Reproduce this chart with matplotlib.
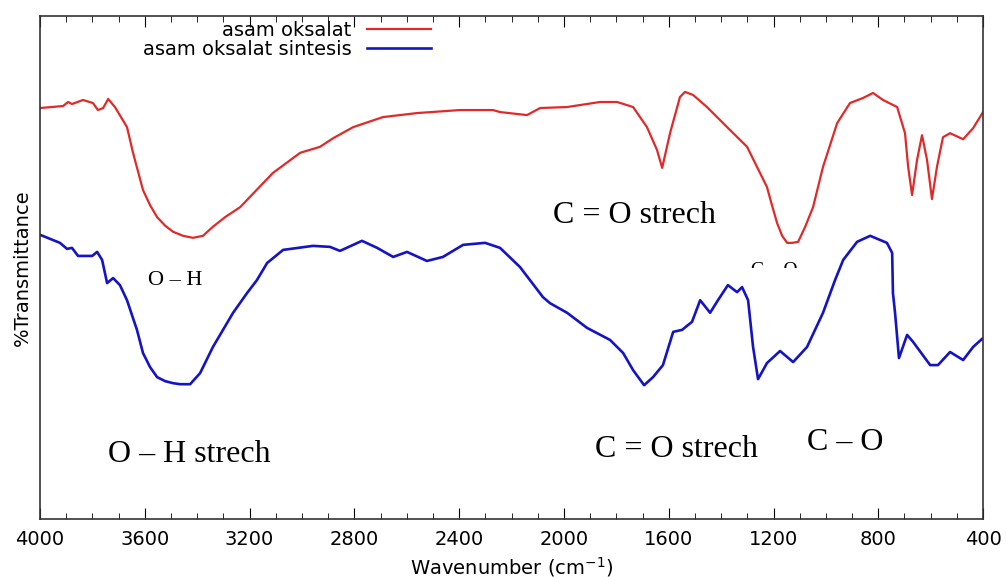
import numpy as np
import matplotlib.pyplot as plt
from matplotlib.ticker import MultipleLocator
from matplotlib.patches import Rectangle

# FTIR spectra, values (arbitrary %T units)
wn_ref = [4000, 3912, 3893, 3878, 3836, 3798, 3779, 3759, 3740, 3714, 3668, 3645,
          3607, 3580, 3553, 3522, 3492, 3454, 3416, 3378, 3340, 3294, 3236, 3111,
          3007, 2931, 2881, 2805, 2691,
          2561, 2397, 2271, 2244, 2141, 2091, 1988, 1862, 1797, 1736, 1683, 1645,
          1625, 1595, 1557, 1538, 1507, 1454, 1377, 1301, 1225, 1206, 1186, 1167,
          1148, 1129, 1106,
          1079, 1049, 1011, 957, 908, 858, 820, 782, 728, 698, 686, 671, 652, 633,
          614, 595, 576, 553, 526, 476, 438, 400]
t_ref = [81.7, 82.1, 82.9, 82.5, 83.3, 82.7, 81.3, 81.7, 83.5, 81.9, 77.9, 72.8,
         65.4, 62.4, 60.0, 58.3, 57.1, 56.3, 55.9, 56.3, 58.1, 60.0, 62.0, 68.8,
         72.8, 74.0, 75.7, 77.9, 79.9,
         80.7, 81.3, 81.3, 80.9, 80.3, 81.7, 81.9, 82.9, 82.9, 81.9, 77.9, 73.4,
         69.8, 76.7, 83.9, 84.9, 84.3, 81.9, 77.9, 74.0, 66.0, 62.4, 58.8, 56.3,
         54.9, 54.9, 55.1,
         58.1, 62.0, 70.0, 78.7, 82.7, 83.7, 84.7, 83.3, 81.9, 76.7, 70.0, 64.4,
         71.4, 76.3, 71.4, 63.6, 70.0, 75.9, 76.7, 75.5, 77.7, 80.9]

wn_syn = [4000, 3924, 3897, 3878, 3855, 3801, 3782, 3763, 3744, 3721, 3695, 3668,
          3630, 3607, 3580, 3553, 3522, 3492, 3465, 3427, 3389, 3340, 3263, 3210,
          3172, 3133, 3072,
          2958, 2893, 2855, 2771, 2713, 2652, 2599, 2523, 2462, 2385, 2301, 2244,
          2168, 2080, 2053, 1988, 1912, 1824, 1774, 1736, 1694, 1660, 1622, 1583,
          1549, 1511, 1480, 1442, 1412, 1374, 1339, 1320, 1297, 1278, 1259, 1225,
          1175, 1125, 1072, 1011, 965, 934, 881, 831, 767, 747, 744, 736, 721, 690,
          667, 602, 572, 526, 476, 438, 404]
t_syn = [56.5, 54.9, 53.7, 53.9, 52.3, 52.3, 53.1, 51.5, 46.9, 47.9, 46.5, 43.5,
         37.6, 33.0, 30.2, 28.2, 27.4, 27.0, 26.8, 26.8, 29.0, 34.2, 41.0, 44.9,
         47.5, 50.9, 53.5,
         54.3, 54.1, 53.3, 55.3, 53.9, 52.1, 53.1, 51.3, 52.1, 54.5, 54.9, 53.9,
         50.1, 44.1, 42.9, 41.0, 38.0, 35.6, 33.0, 29.6, 26.6, 28.2, 30.6, 37.2,
         37.6, 39.2, 43.5, 41.0, 43.5, 46.5, 45.1, 46.1, 43.5, 34.2, 27.8, 31.0,
         33.4, 31.2, 34.2, 41.0, 47.5, 51.5, 55.1, 56.3, 54.9, 52.9, 44.9, 41.0,
         32.0, 36.6, 35.2, 30.6, 30.6, 33.2, 31.6, 34.2, 35.8]

labels = ['asam oksalat', 'asam oksalat sintesis']

fig = plt.figure(figsize=(10.06, 5.77), dpi=100)
ax = fig.add_axes([0.0398, 0.1005, 0.9374, 0.8718])

ax.plot(wn_ref, t_ref, color='#e02a2a', lw=1.6, label=labels[0])
ax.plot(wn_syn, t_syn, color='#1414c4', lw=1.9, label=labels[1])

ax.set_xlim(4000, 400)
ax.set_ylim(0, 100)
ax.xaxis.set_major_locator(MultipleLocator(400))
ax.xaxis.set_minor_locator(MultipleLocator(100))
ax.tick_params(axis='x', which='both', direction='in', top=True, labelsize=14, pad=8)
ax.tick_params(axis='x', which='major', length=8)
ax.tick_params(axis='x', which='minor', length=4)
ax.set_yticks([])
for s in ax.spines.values():
    s.set_linewidth(1.2)
    s.set_color('#333333')

ax.set_xlabel('Wavenumber (cm$^{-1}$)', fontsize=14, labelpad=4)
ax.set_ylabel('%Transmittance', fontsize=14, labelpad=6)

leg = ax.legend(loc='upper right', bbox_to_anchor=(431 / 1006, 1 - 21 / 577),
                bbox_transform=fig.transFigure, frameon=False, markerfirst=False,
                fontsize=14, handlelength=3.3, handletextpad=0.8, labelspacing=0.0,
                borderpad=0, borderaxespad=0)

serif = ['Liberation Serif', 'DejaVu Serif']
ax.text(1729, 58.8, 'C = O strech', family=serif, fontsize=23, ha='center', va='baseline')
ax.text(3431, 11.3, 'O – H strech', family=serif, fontsize=23, ha='center', va='baseline')
ax.text(1572, 12.3, 'C = O strech', family=serif, fontsize=23, ha='center', va='baseline')
ax.text(927, 13.7, 'C – O', family=serif, fontsize=23, ha='center', va='baseline')
ax.text(3485, 46.5, 'O – H', family=serif, fontsize=16, ha='center', va='baseline')
ax.text(1198, 48.5, 'C – O', family=serif, fontsize=14, ha='center', va='baseline')
# the second small label is cut off in the original
ax.add_patch(Rectangle((1110, 44), 175, 5.9, facecolor='white', edgecolor='none', zorder=3))

fig.savefig('out.png', dpi=100)
